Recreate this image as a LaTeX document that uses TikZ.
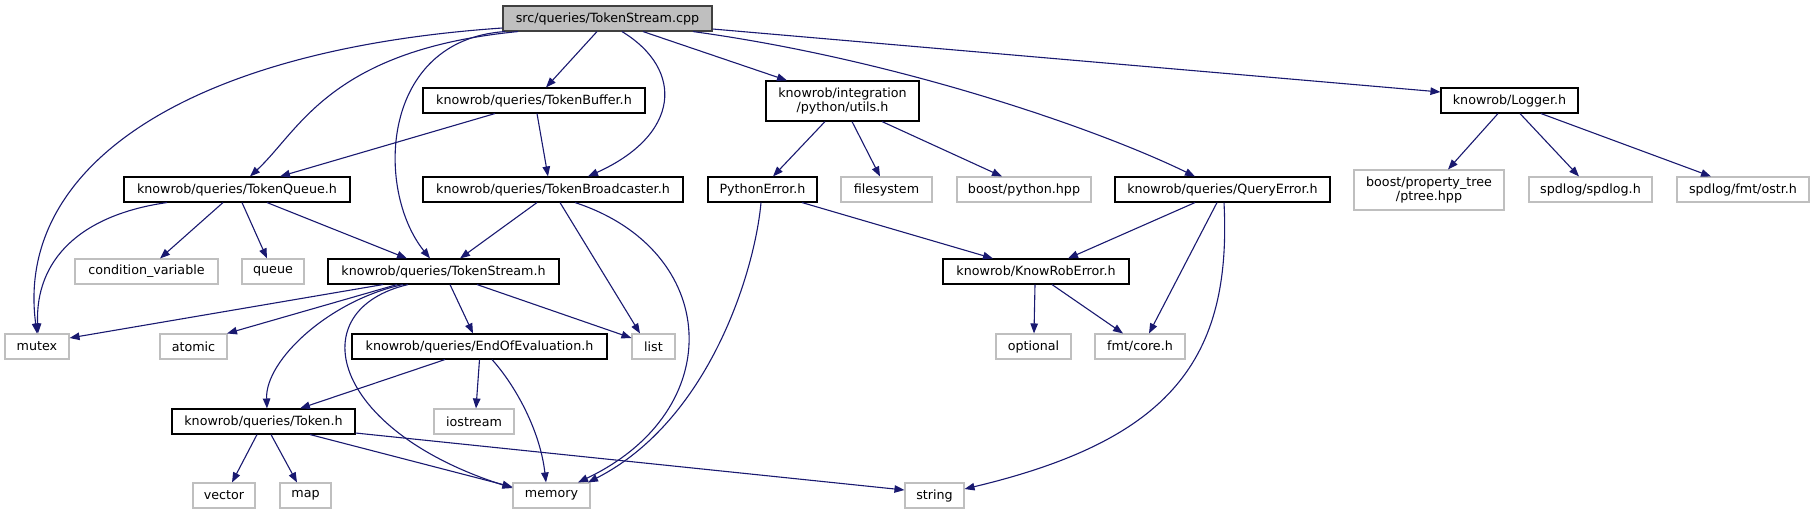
\documentclass[tikz,border=0pt]{standalone}
\usepackage{fontspec}
\setmainfont{DejaVu Sans}
\usetikzlibrary{arrows.meta}
\definecolor{edgeblue}{RGB}{25,25,112}
\tikzset{
  hdr/.style={draw=black,fill=white,line width=1.1pt,inner sep=0pt,minimum height=25pt,align=center},
  sys/.style={hdr,draw=gray!50},
  src/.style={hdr,draw=black!75,fill=gray!50},
  dep/.style={draw=edgeblue,line width=1.1pt,-{Triangle[length=10pt,width=7.5pt,fill=edgeblue]}},
}
\begin{document}
\begin{tikzpicture}[x=1pt,y=-1pt,font=\fontsize{12.7}{14}\selectfont]
  \useasboundingbox (0,0) rectangle (1814,515);
  % rank 0 and 1
  \node[src,minimum width=209pt] (root) at (607.5,18.5) {src/queries/TokenStream.cpp};
  \node[hdr,minimum width=222pt] (buffer) at (534,100.5) {knowrob/queries/TokenBuffer.h};
  \node[hdr,minimum width=153pt,minimum height=40pt] (utils) at (842.5,101) {knowrob/integration\\/python/utils.h};
  \node[hdr,minimum width=137pt] (logger) at (1509.5,100.5) {knowrob/Logger.h};
  % rank 2
  \node[hdr,minimum width=226pt] (queue) at (237,189.5) {knowrob/queries/TokenQueue.h};
  \node[hdr,minimum width=260pt] (bcast) at (553,189.5) {knowrob/queries/TokenBroadcaster.h};
  \node[hdr,minimum width=109pt] (pyerr) at (762.5,189.5) {PythonError.h};
  \node[sys,minimum width=91pt] (fs) at (886.5,189.5) {filesystem};
  \node[sys,minimum width=134pt] (bpy) at (1024,189.5) {boost/python.hpp};
  \node[hdr,minimum width=215pt] (qerr) at (1222.5,189.5) {knowrob/queries/QueryError.h};
  \node[sys,minimum width=150pt,minimum height=40pt] (ptree) at (1429,190) {boost/property\_tree\\/ptree.hpp};
  \node[sys,minimum width=123pt] (spdlog) at (1590.5,189.5) {spdlog/spdlog.h};
  \node[sys,minimum width=132pt] (ostr) at (1743,189.5) {spdlog/fmt/ostr.h};
  % rank 3
  \node[sys,minimum width=143pt] (cv) at (146.5,271.5) {condition\_variable};
  \node[sys,minimum width=62pt] (qq) at (273,271.5) {queue};
  \node[hdr,minimum width=231pt] (tstream) at (443.5,271.5) {knowrob/queries/TokenStream.h};
  \node[hdr,minimum width=186pt] (kre) at (1036,271.5) {knowrob/KnowRobError.h};
  % rank 4
  \node[sys,minimum width=64pt] (mutex) at (37,346.5) {mutex};
  \node[sys,minimum width=67pt] (atomic) at (193.5,346.5) {atomic};
  \node[hdr,minimum width=255pt] (eoe) at (479.5,346.5) {knowrob/queries/EndOfEvaluation.h};
  \node[sys,minimum width=43pt] (list) at (653.5,346.5) {list};
  \node[sys,minimum width=75pt] (optional) at (1033.5,346.5) {optional};
  \node[sys,minimum width=90pt] (fmtcore) at (1140,346.5) {fmt/core.h};
  % rank 5 and 6
  \node[hdr,minimum width=183pt] (token) at (263.5,421.5) {knowrob/queries/Token.h};
  \node[sys,minimum width=80pt] (iostream) at (474,421.5) {iostream};
  \node[sys,minimum width=62pt] (vector) at (224,495.5) {vector};
  \node[sys,minimum width=51pt] (map) at (305.5,495.5) {map};
  \node[sys,minimum width=77pt] (memory) at (551.5,495.5) {memory};
  \node[sys,minimum width=59pt] (string) at (934.5,495.5) {string};
  % straight includes
  \foreach \a/\sa/\b/\tb in {root/-10.5/buffer/12, root/35.5/utils/-55.5,
      buffer/-39/queue/43, buffer/3/bcast/-5,
      queue/-14/cv/13.5, queue/5/qq/-6, queue/30/tstream/-36.5,
      bcast/-16/tstream/16.5, bcast/7/list/-13.5,
      tstream/-46.5/atomic/33.5, tstream/6.5/eoe/-6.5,
      eoe/-34.5/token/36.5, eoe/0/iostream/2,
      token/-6.5/vector/8, token/7.5/map/-8.5,
      utils/-17.5/pyerr/10.5, utils/9.5/fs/-6.5, utils/39.5/bpy/-22,
      pyerr/39.5/kre/-43, qerr/-27.5/kre/32, qerr/-5.5/fmtcore/9,
      kre/-1/optional/0.5, kre/16/fmtcore/-17,
      logger/-11.5/ptree/19, logger/10.5/spdlog/-11.5, logger/31.5/ostr/-32}
    \draw[dep] ([xshift=\sa pt]\a.south) -- ([xshift=\tb pt]\b.north);
  \draw[dep] ([yshift=-10.5pt]root.east) -- ([yshift=8.5pt]logger.west);
  \draw[dep] ([xshift=-60.5pt]tstream.south) -- ([yshift=8.5pt]mutex.east);
  \draw[dep] ([xshift=33.5pt]tstream.south) -- ([yshift=8.5pt]list.west);
  \draw[dep] ([xshift=46.5pt]token.south) -- ([yshift=8.5pt]memory.west);
  \draw[dep] ([yshift=-11.5pt]token.east) -- ([yshift=5.5pt]string.west);
  % curved includes
  \draw[dep] ([yshift=-9.5pt]root.west) .. controls (180,50) and (15,170) .. (mutex.north);
  \draw[dep] ([xshift=-89.5pt]root.south) .. controls (330,50) and (300,130) .. ([xshift=13pt]queue.north);
  \draw[dep] ([xshift=-102.5pt]root.south) .. controls (380,40) and (375,190) .. ([xshift=-13.5pt]tstream.north);
  \draw[dep] ([xshift=14.5pt]root.south) .. controls (685,70) and (680,135) .. ([xshift=35pt]bcast.north);
  \draw[dep] ([xshift=85.5pt]root.south) .. controls (900,60) and (1100,130) .. ([xshift=-27.5pt]qerr.north);
  \draw[dep] ([xshift=-70pt]queue.south) .. controls (80,215) and (35,260) .. ([xshift=1pt]mutex.north);
  \draw[dep] ([xshift=22pt]bcast.south) .. controls (720,250) and (730,410) .. ([xshift=26.5pt]memory.north);
  \draw[dep] ([xshift=-40.5pt]tstream.south) .. controls (330,300) and (265,360) .. ([xshift=3.5pt]token.north);
  \draw[dep] ([xshift=-35.5pt]tstream.south) .. controls (300,310) and (330,430) .. ([yshift=7.5pt]memory.west);
  \draw[dep] ([xshift=12.5pt]eoe.south) .. controls (515,385) and (540,430) .. ([xshift=-5.5pt]memory.north);
  \draw[dep] ([xshift=-1.5pt]pyerr.south) .. controls (755,270) and (710,420) .. ([xshift=36.5pt]memory.north);
  \draw[dep] ([xshift=1.5pt]qerr.south) .. controls (1232,360) and (1170,440) .. ([yshift=6.5pt]string.east);
\end{tikzpicture}
\end{document}
